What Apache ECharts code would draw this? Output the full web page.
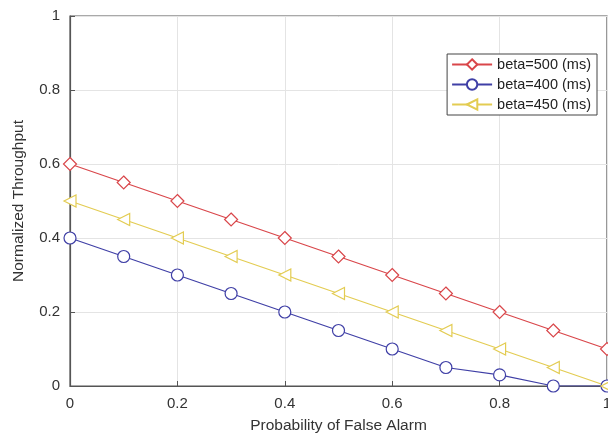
<!DOCTYPE html>
<html><head><meta charset="utf-8">
<script src="https://cdn.jsdelivr.net/npm/echarts@6/dist/echarts.min.js"></script>
<style>html,body{margin:0;padding:0;background:#fff}#c{width:608px;height:439px}</style>
</head><body><div id="c"></div>
<script>
const xValues = [0, 0.1, 0.2, 0.3, 0.4, 0.5, 0.6, 0.7, 0.8, 0.9, 1];
const beta500 = [0.6, 0.55, 0.5, 0.45, 0.4, 0.35, 0.3, 0.25, 0.2, 0.15, 0.1];
const beta400 = [0.4, 0.35, 0.3, 0.25, 0.2, 0.15, 0.1, 0.05, 0.03, 0, 0];
const beta450 = [0.5, 0.45, 0.4, 0.35, 0.3, 0.25, 0.2, 0.15, 0.1, 0.05, 0];
const seriesNames = ['beta=500 (ms)', 'beta=400 (ms)', 'beta=450 (ms)'];
const xTicks = [0, 0.2, 0.4, 0.6, 0.8, 1];
const yTicks = [0, 0.2, 0.4, 0.6, 0.8, 1];

const font = 'Liberation Sans, Arial, sans-serif';
const pair = arr => xValues.map((x, i) => [x, arr[i]]);
const chart = echarts.init(document.getElementById('c'));
function mk(name, data, color, symbol, size) {
  return {
    name, type: 'line', data: pair(data), symbol, symbolSize: size,
    showAllSymbol: true,
    lineStyle: { color, width: 1.2 },
    itemStyle: { color: '#fff', borderColor: color, borderWidth: 1.2 },
    emphasis: { disabled: true }
  };
}
chart.setOption({
  animation: false,
  grid: { left: 70, right: 1, top: 16, bottom: 53, show: true, borderColor: '#555', borderWidth: 1.2, backgroundColor: 'transparent', outerBoundsMode: 'none', containLabel: false },
  legend: {
    right: 11, top: 54, orient: 'vertical', itemGap: 5, itemWidth: 40, itemHeight: 13,
    padding: [3, 6, 3, 4], borderColor: '#444', borderWidth: 1, backgroundColor: '#fff',
    textStyle: { fontFamily: font, fontSize: 14.5, color: '#222' },
    data: seriesNames
  },
  xAxis: {
    type: 'value', min: 0, max: 1, interval: 0.2,
    name: 'Probability of False Alarm', nameLocation: 'middle', nameGap: 32,
    nameTextStyle: { fontFamily: font, fontSize: 15.5, color: '#333' },
    axisLine: { lineStyle: { color: '#555', width: 1.2 } },
    axisTick: { inside: true, length: 5, lineStyle: { color: '#555' } },
    axisLabel: { fontFamily: font, fontSize: 15, color: '#333', margin: 10, formatter: v => xTicks.includes(+v.toFixed(1)) ? String(+v.toFixed(1)) : '' },
    splitLine: { show: true, lineStyle: { color: '#e4e4e4', width: 1 } }
  },
  yAxis: {
    type: 'value', min: 0, max: 1, interval: 0.2,
    name: 'Normalized Throughput', nameLocation: 'middle', nameGap: 43,
    nameTextStyle: { fontFamily: font, fontSize: 15.5, color: '#333' },
    axisLine: { lineStyle: { color: '#555', width: 1.2 } },
    axisTick: { inside: true, length: 5, lineStyle: { color: '#555' } },
    axisLabel: { fontFamily: font, fontSize: 15, color: '#333', margin: 10, formatter: v => yTicks.includes(+v.toFixed(1)) ? String(+v.toFixed(1)) : '' },
    splitLine: { show: true, lineStyle: { color: '#e4e4e4', width: 1 } }
  },
  series: [
    mk(seriesNames[0], beta500, '#d9464a', 'diamond', 13),
    mk(seriesNames[1], beta400, '#3f3fa6', 'circle', 12),
    mk(seriesNames[2], beta450, '#e3cc52', 'path://M0,5 L10,0 L10,10 Z', 12)
  ]
});
</script></body></html>
